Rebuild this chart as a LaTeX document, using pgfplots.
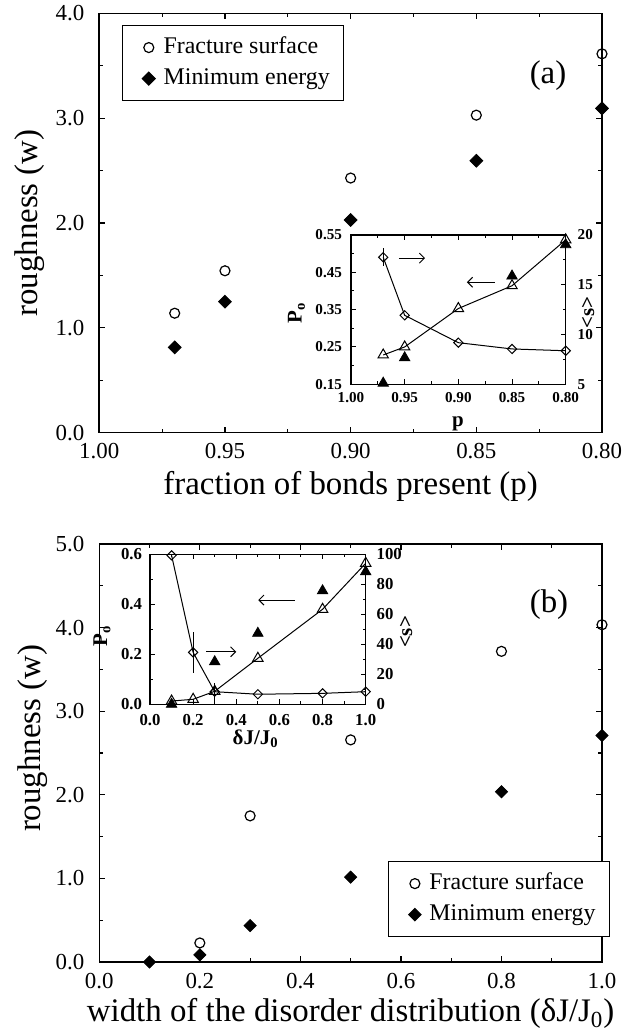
\documentclass[border=0pt]{standalone}
\usepackage{fontspec}
\setmainfont{Liberation Serif}
\usepackage{pgfplots}
\pgfplotsset{compat=1.18}
\usetikzlibrary{arrows.meta}

\pgfplotsset{
  mainax/.style={
    scale only axis, width=251.35bp, anchor=south west,
    axis line style={line width=0.8bp},
    tick style={black, line width=0.6bp},
    major tick length=3bp, minor tick length=2bp,
    /pgf/number format/assume math mode=true,
    tick label style={font=\fontsize{11.5}{13}\selectfont},
    label style={font=\fontsize{16.5}{19}\selectfont},
    yticklabel style={xshift=-4bp},
    xticklabel style={yshift=-2bp},
    legend cell align=left,
    legend style={draw=black, line width=0.6bp, fill=white,
      font=\fontsize{12}{14}\selectfont,
      inner xsep=7bp, inner ysep=5bp, row sep=3.5bp, column sep=4.2bp,
      nodes={inner sep=0bp, text height=9bp, text depth=3bp}},
  },
  leg/.style={legend image code/.code={\path[draw=none,fill=none] (-6.15bp,0bp) -- (0bp,0bp); \draw[##1] plot coordinates {(0bp,0bp)};}},
  insetax/.style={
    scale only axis, anchor=south west, clip=false,
    axis line style={line width=0.6bp},
    tick style={black, line width=0.5bp},
    major tick length=2.5bp, minor tick length=1.5bp,
    /pgf/number format/assume math mode=true,
    label style={font=\bfseries\fontsize{10.5}{12}\selectfont},
  },
  fix1/.style={/pgf/number format/fixed, /pgf/number format/fixed zerofill, /pgf/number format/precision=1},
  fix2/.style={/pgf/number format/fixed, /pgf/number format/fixed zerofill, /pgf/number format/precision=2},
}

\begin{document}
\begin{tikzpicture}
\path[use as bounding box] (0,0) rectangle (320.5bp,517bp);

% ================= Panel (a) main =================
\begin{axis}[mainax, at={(49.65bp,300.65bp)}, height=209.6bp,
  xmin=0.8, xmax=1.0, x dir=reverse, xtick={0.8,0.85,0.9,0.95,1.0}, minor x tick num=1,
  ymin=0, ymax=4, ytick={0,1,2,3,4}, minor y tick num=1,
  xticklabel style={fix2}, yticklabel style={fix1},
  xlabel={fraction of bonds present (p)}, ylabel={roughness (w)},
  xlabel style={at={(axis description cs:0.5,-0.127)}, anchor=center},
  ylabel style={at={(axis description cs:-0.138,0.5)}, anchor=center},
  legend style={at={(axis description cs:0.045,0.9726)}, anchor=north west},
]
\addplot[only marks, leg, mark=o, mark size=2.5bp, mark options={line width=0.6bp}, black]
  coordinates {(0.97,1.14) (0.95,1.545) (0.90,2.43) (0.85,3.03) (0.80,3.615)};
\addlegendentry{Fracture surface}
\addplot[only marks, leg, mark=square*, mark size=2.26bp, mark options={rotate=45}, black]
  coordinates {(0.97,0.814) (0.95,1.25) (0.90,2.03) (0.85,2.595) (0.80,3.094)};
\addlegendentry{Minimum energy}
\node[font=\fontsize{16.5}{19}\selectfont] at (axis description cs:0.8926,0.851) {(a)};
\end{axis}

% ---- inset (a), left axis P0 ----
\begin{axis}[insetax, at={(175.5bp,324.85bp)}, width=107.35bp, height=74.65bp,
  axis background/.style={fill=white},
  xmin=0.8, xmax=1.0, x dir=reverse, xtick={0.8,0.85,0.9,0.95,1.0}, minor x tick num=1,
  ymin=0.15, ymax=0.55, ytick={0.15,0.25,0.35,0.45,0.55}, minor y tick num=1, ytick pos=left,
  tick label style={font=\bfseries\fontsize{7.6}{9}\selectfont},
  xticklabel style={fix2, yshift=-0.3bp}, yticklabel style={fix2, xshift=-1bp},
  xlabel={p}, xlabel style={at={(axis description cs:0.498,-0.265)}, anchor=center},
  ylabel={P\textsubscript{o}}, ylabel style={at={(axis description cs:-0.254,0.478)}, anchor=center},
]
\addplot[black, line width=0.5bp, mark=triangle, mark size=3bp, mark options={fill=white}]
  coordinates {(0.97,0.2285) (0.95,0.25) (0.90,0.353) (0.85,0.414) (0.80,0.537)};
\addplot[only marks, black, mark=triangle*, mark size=3bp]
  coordinates {(0.97,0.153) (0.95,0.221) (0.85,0.44) (0.80,0.524)};
\draw[-{Straight Barb[length=2.5bp]}, line width=0.5bp] (axis cs:0.9555,0.488) -- (axis cs:0.931,0.488);
\draw[-{Straight Barb[length=2.5bp]}, line width=0.5bp] (axis cs:0.866,0.4235) -- (axis cs:0.892,0.4235);
\end{axis}

% ---- inset (a), right axis <s> ----
\begin{axis}[insetax, at={(175.5bp,324.85bp)}, width=107.35bp, height=74.65bp,
  xmin=0.8, xmax=1.0, x dir=reverse, axis x line=none, axis y line*=right,
  ymin=5, ymax=20, ytick={5,10,15,20}, minor y tick num=1,
  tick label style={font=\bfseries\fontsize{7.6}{9}\selectfont},
  yticklabel style={xshift=2.5bp},
  ylabel={<s>}, ylabel style={at={(axis description cs:1.104,0.478)}, anchor=center},
]
\addplot[black, line width=0.5bp, mark=square, mark size=1.63bp, mark options={rotate=45, fill=white},
  error bars/.cd, y dir=both, y explicit, error mark=none, error bar style={line width=0.5bp}]
  coordinates {(0.97,17.76) +- (0,0.9) (0.95,11.93) +- (0,0) (0.90,9.18) +- (0,0) (0.85,8.55) +- (0,0) (0.80,8.37) +- (0,0)};
\end{axis}

% ================= Panel (b) main =================
\begin{axis}[mainax, at={(49.65bp,36bp)}, height=209bp,
  xmin=0, xmax=1.0, xtick={0,0.2,0.4,0.6,0.8,1.0}, minor x tick num=1,
  ymin=0, ymax=5, ytick={0,1,2,3,4,5}, minor y tick num=1,
  xticklabel style={fix1}, yticklabel style={fix1},
  xlabel={width of the disorder distribution (δJ/J\textsubscript{0})}, ylabel={roughness (w)},
  xlabel style={at={(axis description cs:0.5,-0.124)}, anchor=center},
  ylabel style={at={(axis description cs:-0.132,0.535)}, anchor=center},
  legend style={at={(axis description cs:0.5743,0.2416)}, anchor=north west},
]
\addplot[only marks, leg, mark=o, mark size=2.5bp, mark options={line width=0.6bp}, black]
  coordinates {(0.2,0.228) (0.3,1.748) (0.5,2.657) (0.8,3.716) (1.0,4.034)};
\addlegendentry{Fracture surface}
\addplot[only marks, leg, mark=square*, mark size=2.15bp, mark options={rotate=45}, black]
  coordinates {(0.1,0.0) (0.2,0.085) (0.3,0.436) (0.5,1.015) (0.8,2.037) (1.0,2.71)};
\addlegendentry{Minimum energy}
\node[font=\fontsize{16.5}{19}\selectfont] at (axis description cs:0.8946,0.854) {(b)};
\end{axis}

% ---- inset (b), left axis P0 ----
\begin{axis}[insetax, at={(75bp,164.85bp)}, width=107.85bp, height=75bp,
  axis background/.style={fill=white},
  xmin=0, xmax=1.0, xtick={0,0.2,0.4,0.6,0.8,1.0}, minor x tick num=1,
  ymin=0, ymax=0.6, ytick={0,0.2,0.4,0.6}, minor y tick num=1, ytick pos=left,
  tick label style={font=\bfseries\fontsize{8.4}{10}\selectfont},
  xticklabel style={fix1, yshift=-1.5bp}, yticklabel style={fix1, xshift=-0.5bp},
  xlabel={δJ/J\textsubscript{0}}, xlabel style={at={(axis description cs:0.49,-0.231)}, anchor=center},
  ylabel={P\textsubscript{o}}, ylabel style={at={(axis description cs:-0.2225,0.455)}, anchor=center},
]
\addplot[black, line width=0.5bp, mark=triangle, mark size=3bp, mark options={fill=white}]
  coordinates {(0.1,0.013) (0.2,0.02) (0.3,0.052) (0.5,0.184) (0.8,0.38) (1.0,0.564)};
\addplot[only marks, black, mark=triangle*, mark size=3bp]
  coordinates {(0.1,0.0) (0.3,0.17) (0.5,0.284) (0.8,0.454) (1.0,0.53)};
\draw[-{Straight Barb[length=2.5bp]}, line width=0.5bp] (axis cs:0.672,0.417) -- (axis cs:0.502,0.417);
\draw[-{Straight Barb[length=2.5bp]}, line width=0.5bp] (axis cs:0.26,0.21) -- (axis cs:0.40,0.21);
\end{axis}

% ---- inset (b), right axis <s> ----
\begin{axis}[insetax, at={(75bp,164.85bp)}, width=107.85bp, height=75bp,
  xmin=0, xmax=1.0, axis x line=none, axis y line*=right,
  ymin=0, ymax=100, ytick={0,20,40,60,80,100}, minor y tick num=1,
  tick label style={font=\bfseries\fontsize{8.4}{10}\selectfont},
  yticklabel style={xshift=2bp},
  ylabel={<s>}, ylabel style={at={(axis description cs:1.187,0.482)}, anchor=center},
]
\addplot[black, line width=0.5bp, mark=square, mark size=1.63bp, mark options={rotate=45, fill=white},
  error bars/.cd, y dir=both, y explicit, error mark=none, error bar style={line width=0.5bp}]
  coordinates {(0.1,99.3) +- (0,0) (0.2,34.6) +- (0,13.9) (0.3,8.4) +- (0,6) (0.5,6.7) +- (0,0) (0.8,7.3) +- (0,0) (1.0,8.4) +- (0,0)};
\end{axis}
\end{tikzpicture}
\end{document}
